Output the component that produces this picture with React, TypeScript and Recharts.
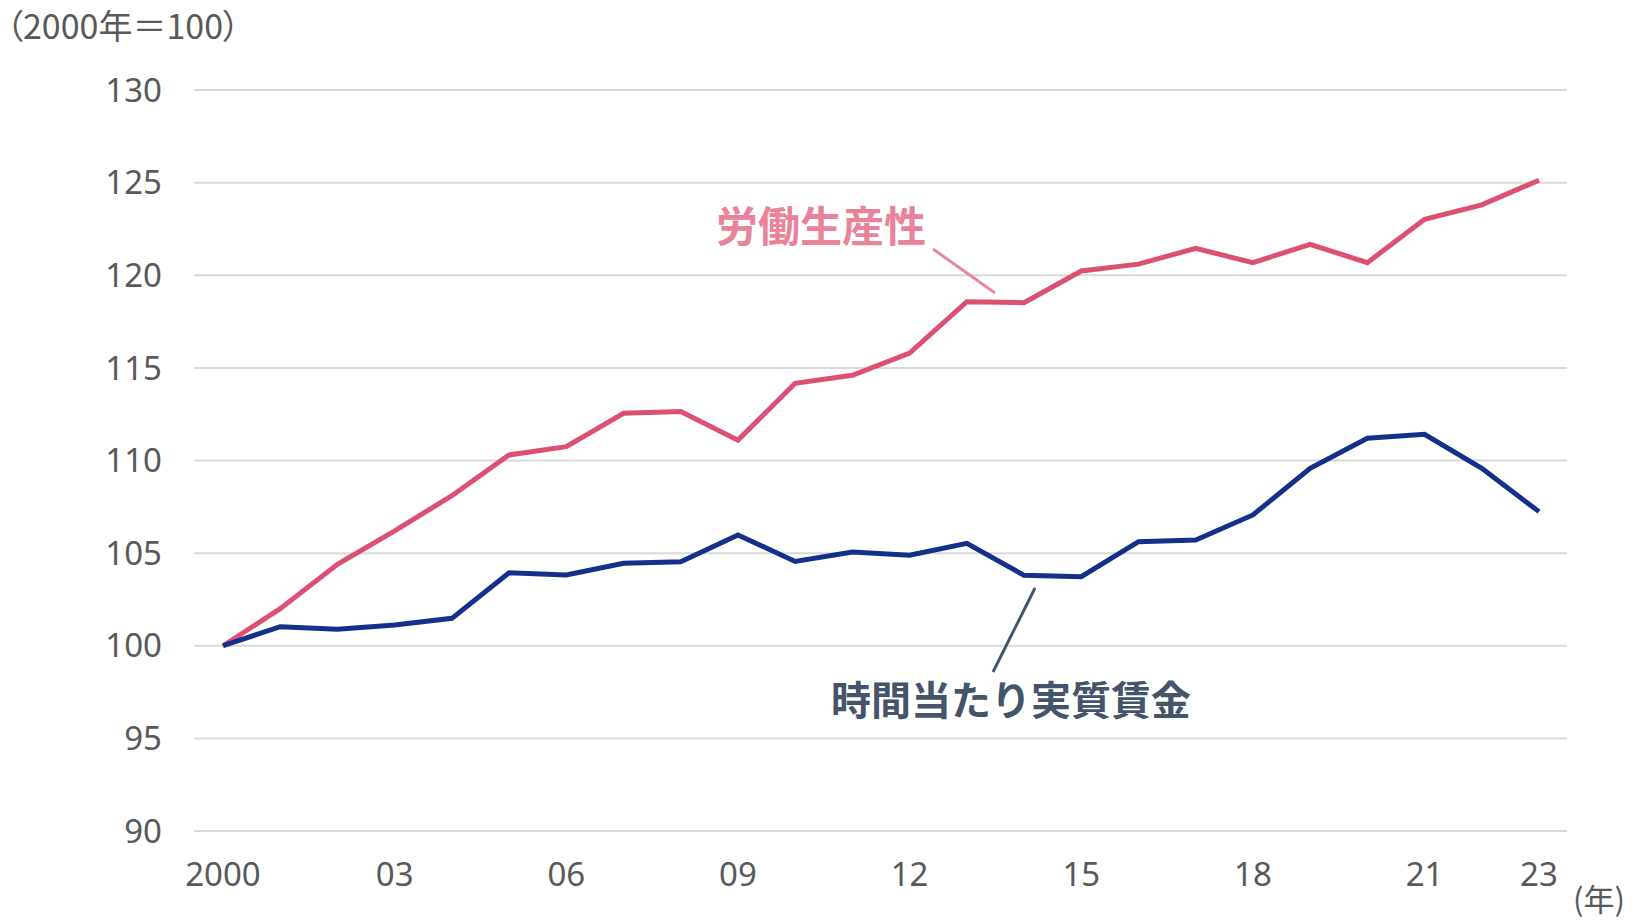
import React from 'react';
import { LineChart, Line, XAxis, YAxis, CartesianGrid } from 'recharts';

const years = ['2000', '01', '02', '03', '04', '05', '06', '07', '08', '09', '10', '11', '12', '13', '14', '15', '16', '17', '18', '19', '20', '21', '22', '23'];

// 労働生産性 (2000年=100)
const productivity = [100, 102.0, 104.4, 106.2, 108.1, 110.3, 110.75, 112.55, 112.64, 111.1, 114.17, 114.6, 115.8, 118.57, 118.52, 120.23, 120.6, 121.45, 120.68, 121.67, 120.68, 123.02, 123.8, 125.13];

// 時間当たり実質賃金 (2000年=100)
const realWage = [100, 101.03, 100.89, 101.12, 101.48, 103.94, 103.82, 104.45, 104.54, 105.98, 104.55, 105.06, 104.89, 105.53, 103.8, 103.73, 105.62, 105.71, 107.06, 109.58, 111.2, 111.41, 109.58, 107.24];

const yTicks = [90, 95, 100, 105, 110, 115, 120, 125, 130];

const data = years.map((year, i) => ({
  year,
  productivity: productivity[i],
  realWage: realWage[i],
}));

const FONT = "'Noto Sans', 'Noto Sans CJK JP', sans-serif";
const CJK = "'Noto Sans CJK JP', 'Noto Sans', sans-serif";

export default function App() {
  return (
    <div style={{ position: 'absolute', left: 0, top: 0, width: 1633, height: 921, background: '#fff', overflow: 'hidden' }}>
      <LineChart
        width={1633}
        height={921}
        data={data}
        margin={{ top: 90, right: 66, bottom: 30, left: 0 }}
      >
        <CartesianGrid vertical={false} stroke="#d9d9d9" strokeWidth={2} />
        <XAxis
          dataKey="year"
          interval={0}
          axisLine={false}
          tickLine={false}
          tickSize={6}
          tickMargin={26}
          height={60}
          padding={{ left: 29, right: 28 }}
          tick={{ fontSize: 33, fill: '#595959', fontFamily: FONT }}
          tickFormatter={(v: string, i: number) => (i % 3 === 0 || i === years.length - 1 ? v : '')}
        />
        <YAxis
          type="number"
          domain={[90, 130]}
          ticks={yTicks}
          interval={0}
          axisLine={false}
          tickLine={false}
          tickSize={6}
          tickMargin={26}
          width={194}
          tick={{ fontSize: 33, fill: '#595959', fontFamily: FONT }}
        />
        <Line
          type="linear"
          dataKey="productivity"
          stroke="#dc5072"
          strokeWidth={5}
          dot={false}
          isAnimationActive={false}
        />
        <Line
          type="linear"
          dataKey="realWage"
          stroke="#13318a"
          strokeWidth={5}
          dot={false}
          isAnimationActive={false}
        />
      </LineChart>

      {/* leader lines */}
      <svg width={1633} height={921} style={{ position: 'absolute', left: 0, top: 0, pointerEvents: 'none' }}>
        <line x1={933} y1={249} x2={995} y2={293} stroke="#e8899d" strokeWidth={3} />
        <line x1={1035} y1={588} x2={993} y2={672} stroke="#44546a" strokeWidth={3} />
      </svg>

      <div style={{ position: 'absolute', left: 6, top: 8, fontFamily: CJK, fontSize: 34, color: '#595959', lineHeight: 1, whiteSpace: 'nowrap', fontFeatureSettings: '"palt"' }}>
        （2000年＝100）
      </div>
      <div style={{ position: 'absolute', left: 1573, top: 882, fontFamily: CJK, fontSize: 31, color: '#595959', lineHeight: 1, whiteSpace: 'nowrap' }}>
        (年)
      </div>
      <div style={{ position: 'absolute', left: 716, top: 203, fontFamily: CJK, fontSize: 42, fontWeight: 700, color: '#e8839a', lineHeight: 1, whiteSpace: 'nowrap' }}>
        労働生産性
      </div>
      <div style={{ position: 'absolute', left: 831, top: 678, fontFamily: CJK, fontSize: 40, fontWeight: 700, color: '#44546a', lineHeight: 1, whiteSpace: 'nowrap' }}>
        時間当たり実質賃金
      </div>
    </div>
  );
}
